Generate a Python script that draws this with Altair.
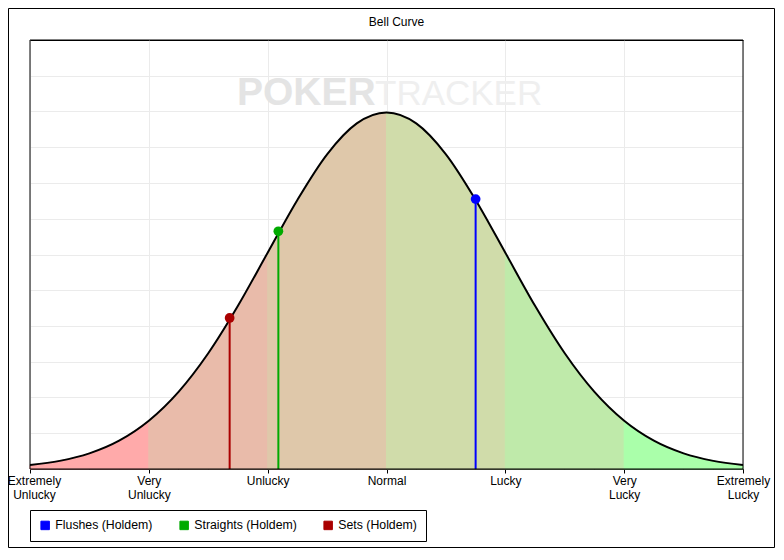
import altair as alt
import pandas as pd

# ---- data ----
curve_x = [-3, -2.75, -2.5, -2.25, -2, -1.75, -1.5, -1.25, -1, -0.75, -0.5, -0.25, 0,
           0.25, 0.5, 0.75, 1, 1.25, 1.5, 1.75, 2, 2.25, 2.5, 2.75, 3]
curve_y = [0.0044, 0.0091, 0.0175, 0.0317, 0.054, 0.0863, 0.1295, 0.1826, 0.242, 0.3011,
           0.3521, 0.3867, 0.3989, 0.3867, 0.3521, 0.3011, 0.242, 0.1826, 0.1295, 0.0863,
           0.054, 0.0317, 0.0175, 0.0091, 0.0044]

tick_values = [-3, -2, -1, 0, 1, 2, 3]
tick_labels = [["Extremely", "Unlucky"], ["Very", "Unlucky"], ["Unlucky"], ["Normal"],
               ["Lucky"], ["Very", "Lucky"], ["Extremely", "Lucky"]]
y_grid = [0.04, 0.08, 0.12, 0.16, 0.2, 0.24, 0.28, 0.32, 0.36, 0.4, 0.44]

band_edges = [-3, -2, -1, 0, 1, 2, 3]
band_colors = ["#ffaaaa", "#e9bbaa", "#dfc8aa", "#d0dcaa", "#bfeaaa", "#aaffaa"]

series_names = ["Flushes (Holdem)", "Straights (Holdem)", "Sets (Holdem)"]
series_colors = ["#0000ff", "#00aa00", "#aa0000"]
series_x = [0.75, -0.91, -1.32]
series_y = [0.302, 0.266, 0.169]

chart_title = "Bell Curve"
watermark = ["POKER", "TRACKER"]

FONT = "Liberation Sans"
W, H = 713, 429
XDOM = [-3, 3]
YDOM = [0, 0.48]

# ---- tables ----
curve_df = pd.DataFrame({"x": curve_x, "y": curve_y})
rows = []
for k in range(len(band_colors)):
    lo, hi = band_edges[k], band_edges[k + 1]
    for xv, yv in zip(curve_x, curve_y):
        if lo <= xv <= hi:
            rows.append({"x": xv, "y": yv, "band": k, "col": band_colors[k]})
band_df = pd.DataFrame(rows)
marker_df = pd.DataFrame({"name": series_names, "x": series_x, "y": series_y})

label_expr = ""
for v, lab in zip(tick_values, tick_labels):
    arr = "[" + ",".join("'" + s + "'" for s in lab) + "]"
    label_expr += f"datum.value == {v} ? {arr} : "
label_expr += "''"

xs = alt.Scale(domain=XDOM, nice=False, zero=False)
ys = alt.Scale(domain=YDOM, nice=False)

x_axis = alt.Axis(values=tick_values, labelExpr=label_expr, title=None, grid=True,
                  gridColor="#ebebeb",
                  tickSize=4, tickColor="black", domainColor="black",
                  labelColor="black", labelFont=FONT, labelFontSize=12, labelPadding=2,
                  labelLineHeight=14, labelFlush=False, labelOverlap=False,
                  labelOffset={"condition": {"test": f"datum.value == {XDOM[0]}", "value": 4}, "value": 0})
y_axis = alt.Axis(values=y_grid, labels=False, ticks=False, domain=False, title=None,
                  grid=True, gridColor="#ebebeb")

bands = alt.Chart(band_df).mark_area(interpolate="monotone", opacity=1, strokeWidth=1).encode(
    x=alt.X("x:Q", scale=xs, axis=x_axis),
    y=alt.Y("y:Q", scale=ys, axis=y_axis, stack=None),
    detail="band:N",
    fill=alt.Fill("col:N", scale=None),
    stroke=alt.Stroke("col:N", scale=None),
)

line = alt.Chart(curve_df).mark_line(interpolate="monotone", color="black", strokeWidth=2).encode(
    x=alt.X("x:Q", scale=xs),
    y=alt.Y("y:Q", scale=ys),
)

color_scale = alt.Scale(domain=series_names, range=series_colors)
legend = alt.Legend(title=None, orient="none", legendX=0, legendY=470,
                    direction="horizontal", columns=3,
                    strokeColor="black", fillColor="white", padding=9,
                    columnPadding=24, symbolType="square", symbolSize=72,
                    symbolOpacity=1, symbolStrokeColor="black", symbolStrokeWidth=1,
                    labelFont=FONT, labelFontSize=12.3, labelColor="black",
                    labelOffset=4)

rules = alt.Chart(marker_df).mark_rule(strokeWidth=2).encode(
    x=alt.X("x:Q", scale=xs),
    y=alt.Y("y:Q", scale=ys),
    y2=alt.datum(0),
    color=alt.Color("name:N", scale=color_scale, sort=series_names, legend=legend),
)

points = alt.Chart(marker_df).mark_circle(size=95, opacity=1).encode(
    x=alt.X("x:Q", scale=xs),
    y=alt.Y("y:Q", scale=ys),
    color=alt.Color("name:N", scale=color_scale, sort=series_names, legend=legend),
)

wm1 = alt.Chart(pd.DataFrame({"t": [watermark[0]]})).mark_text(
    font=FONT, fontWeight="bold", fontSize=39, color="#e4e4e4",
    align="left", baseline="alphabetic").encode(
    x=alt.value(207), y=alt.value(65), text="t:N")
wm2 = alt.Chart(pd.DataFrame({"t": [watermark[1]]})).mark_text(
    font=FONT, fontWeight="normal", fontSize=35, color="#efefef",
    align="left", baseline="alphabetic").encode(
    x=alt.value(345), y=alt.value(65), text="t:N")

title = alt.Chart(pd.DataFrame({"t": [chart_title]})).mark_text(
    font=FONT, fontSize=12, color="black", align="center", baseline="middle").encode(
    x=alt.value(W / 2 + 10), y=alt.value(-18), text="t:N")

frame = alt.Chart(pd.DataFrame({"a": [0]})).mark_rect(
    fill="transparent", stroke="black", strokeWidth=1).encode(
    x=alt.value(0), x2=alt.value(W), y=alt.value(0), y2=alt.value(H))

border = alt.Chart(pd.DataFrame({"a": [0]})).mark_rect(
    fill="transparent", stroke="black", strokeWidth=1).encode(
    x=alt.value(-21.5), x2=alt.value(W + 31.5), y=alt.value(-31.5), y2=alt.value(H + 78.5))

chart = alt.layer(wm1, wm2, bands, line, rules, points, title, frame, border).properties(
    width=W, height=H,
    autosize=alt.AutoSizeParams(type="none"),
    padding={"left": 22, "top": 32, "right": 32, "bottom": 79},
    background="white",
).configure_view(stroke="black", strokeWidth=1)

chart.save("out.html", embed_options={"renderer": "svg", "actions": False})
